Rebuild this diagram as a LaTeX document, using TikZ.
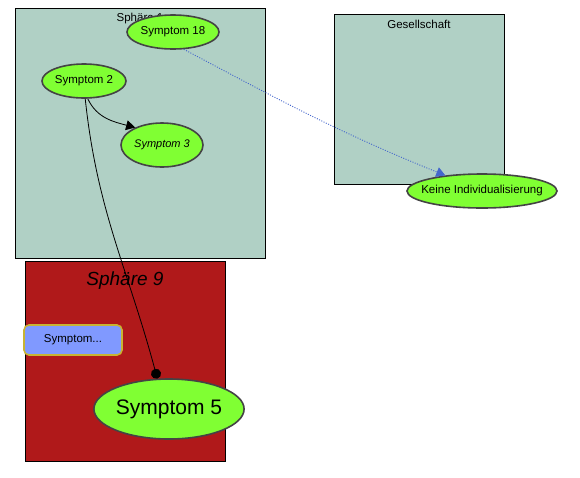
\documentclass[tikz,border=0pt]{standalone}
\usepackage{fontspec}
\setmainfont{Liberation Sans}
\usetikzlibrary{shapes.geometric,arrows.meta}
\definecolor{boxgreen}{HTML}{B0D0C5}
\definecolor{boxred}{HTML}{B0191A}
\definecolor{ellfill}{HTML}{80FF33}
\definecolor{ellline}{HTML}{444444}
\definecolor{bluebox}{HTML}{8099FF}
\definecolor{yellowline}{HTML}{C8B432}
\definecolor{blueline}{HTML}{4466CC}
\tikzset{
  sphere/.style={draw=black, line width=0.8pt},
  sym/.style={ellipse, draw=ellline, line width=1.6pt, fill=ellfill, inner sep=0pt, font=\fontsize{11.5}{13}\selectfont},
}
\begin{document}
\begin{tikzpicture}[x=1pt,y=-1pt]
\useasboundingbox (0,0) rectangle (580,477);
% boxes
\draw[sphere, fill=boxgreen] (15,8) rectangle (265,258);
\node[font=\fontsize{11.5}{13}\selectfont] (l1) at (140,19) {Sphäre 1};
\draw[sphere, fill=boxgreen] (334,14) rectangle (504,184);
\node[font=\fontsize{11.5}{13}\selectfont] (l2) at (419,24) {Gesellschaft};
\draw[sphere, fill=boxred] (25,261) rectangle (225,461);
\node[font=\itshape\fontsize{19}{21}\selectfont] (l3) at (125,281) {Sphäre 9};
% nodes
\node[sym, minimum width=92pt, minimum height=34pt] (s18) at (173,32) {Symptom 18};
\node[sym, minimum width=84pt, minimum height=34pt] (s2) at (84,81) {Symptom 2};
\node[sym, minimum width=82pt, minimum height=44pt, font=\itshape\fontsize{11}{13}\selectfont] (s3) at (162,145) {Symptom 3};
\node[sym, inner xsep=-12pt, minimum width=150pt, minimum height=34pt] (ki) at (482,191) {Keine Individualisierung};
\node[sym, minimum width=148pt, minimum height=60pt, font=\fontsize{21}{24}\selectfont] (s5) at (169,409) {Symptom 5};
\node[draw=yellowline, fill=bluebox, line width=1.6pt, rounded corners=5pt, minimum width=98pt, minimum height=30pt, inner sep=0pt, font=\fontsize{11.5}{13}\selectfont] (sx) at (73,340) {Symptom...};
% edges
\draw[line width=0.8pt, -{Triangle[length=9pt,width=10pt]}] (s2.-78) to[out=-65,in=165] (s3.147);
\draw[line width=0.8pt, -{Circle[length=10pt]}] (s2.-86) to[out=-84,in=105] (s5.111);
\draw[blueline, line width=0.9pt, dash pattern=on 1pt off 1.5pt, -{Triangle[length=9pt,width=10pt]}] (s18.-58) to[out=-28,in=158] (ki.157);
\end{tikzpicture}
\end{document}
